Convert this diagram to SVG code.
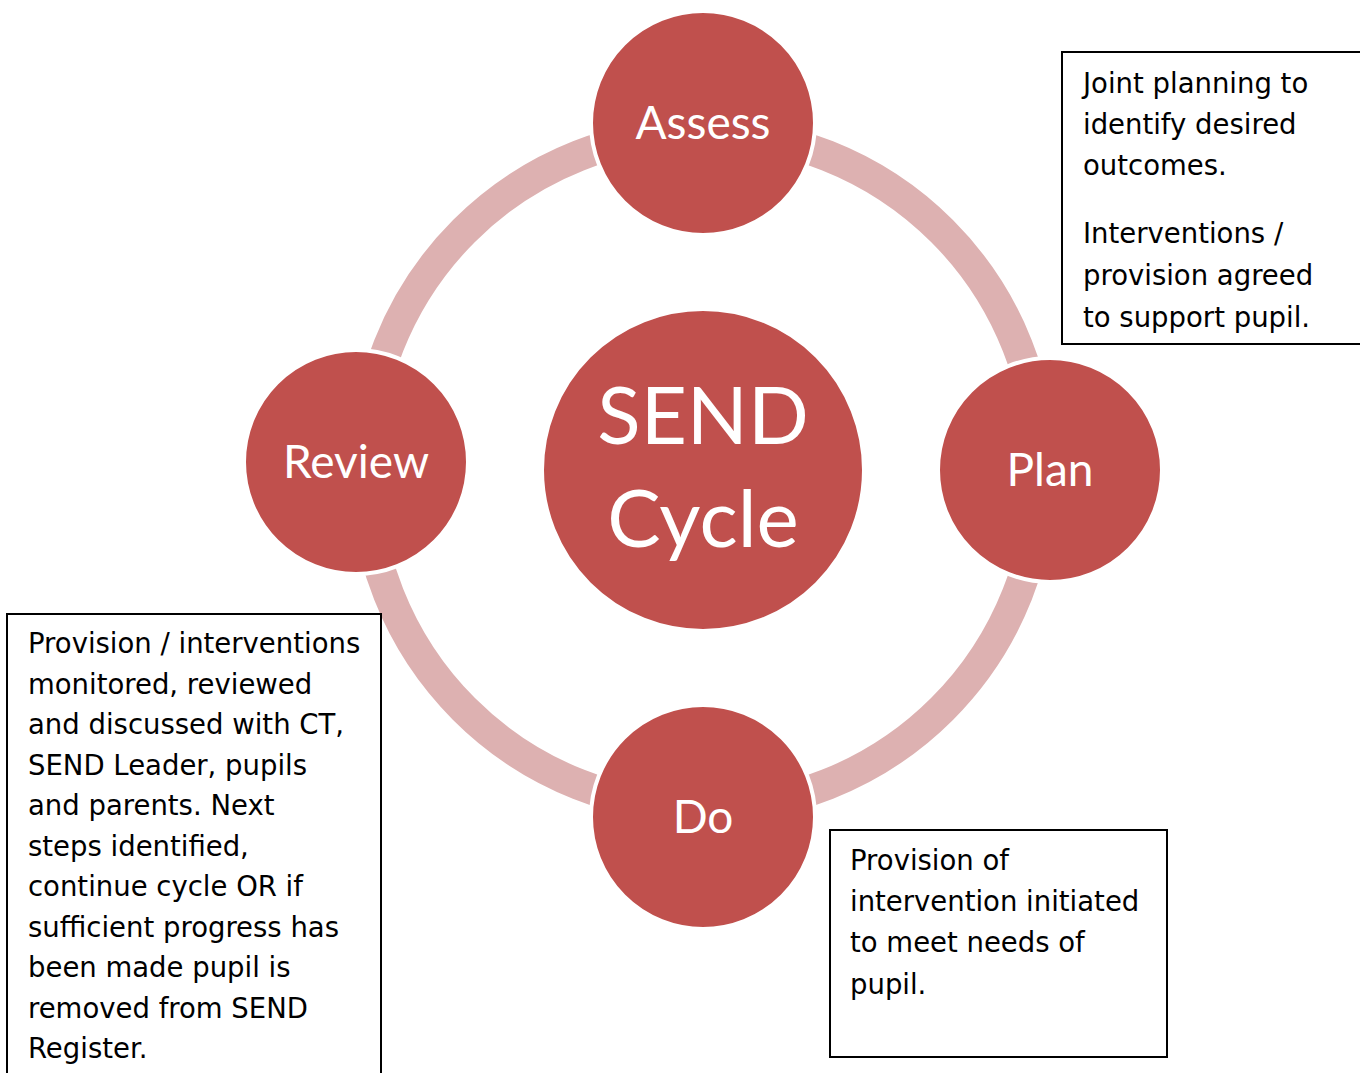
<svg xmlns="http://www.w3.org/2000/svg" width="1360" height="1073" viewBox="0 0 1360 1073">
<style>
.node{fill:#C0504D;stroke:#FFFFFF;stroke-width:4}
.lbl{font-family:Lato,"Open Sans",sans-serif;fill:#FFFFFF;text-anchor:middle}
.box{fill:#FFFFFF;stroke:#000000;stroke-width:2}
.note{font-family:"DejaVu Sans",sans-serif;font-size:27.5px;fill:#000000}
</style>
<rect width="1360" height="1073" fill="#FFFFFF"/>
<g id="connectors">
<circle cx="703" cy="470" r="338" fill="none" stroke="#DDB1B1" stroke-width="31"/>
</g>
<g id="center">
<circle class="node" cx="703" cy="470" r="161"/>
<text class="lbl" x="703" y="444" font-size="80">SEND</text>
<text class="lbl" x="703" y="547" font-size="80">Cycle</text>
</g>
<g id="assess">
<circle class="node" cx="703" cy="123" r="112"/>
<text class="lbl" x="703" y="139" font-size="46">Assess</text>
</g>
<g id="plan">
<circle class="node" cx="1050" cy="470" r="112"/>
<text class="lbl" x="1050" y="486" font-size="46">Plan</text>
</g>
<g id="do">
<circle class="node" cx="703" cy="817" r="112"/>
<text class="lbl" x="703" y="833" font-size="46">Do</text>
</g>
<g id="review">
<circle class="node" cx="356" cy="462" r="112"/>
<text class="lbl" x="356" y="478" font-size="46">Review</text>
</g>
<g id="note-plan">
<rect class="box" x="1062" y="52" width="300" height="292"/>
<text class="note" x="1083" y="93">Joint planning to</text>
<text class="note" x="1083" y="134">identify desired</text>
<text class="note" x="1083" y="175">outcomes.</text>
<text class="note" x="1083" y="243">Interventions /</text>
<text class="note" x="1083" y="285">provision agreed</text>
<text class="note" x="1083" y="327">to support pupil.</text>
</g>
<g id="note-review">
<rect class="box" x="7" y="614" width="374" height="470"/>
<text class="note" x="28" y="653">Provision / interventions</text>
<text class="note" x="28" y="694">monitored, reviewed</text>
<text class="note" x="28" y="734">and discussed with CT,</text>
<text class="note" x="28" y="775">SEND Leader, pupils</text>
<text class="note" x="28" y="815">and parents. Next</text>
<text class="note" x="28" y="856">steps identified,</text>
<text class="note" x="28" y="896">continue cycle OR if</text>
<text class="note" x="28" y="937">sufficient progress has</text>
<text class="note" x="28" y="977">been made pupil is</text>
<text class="note" x="28" y="1018">removed from SEND</text>
<text class="note" x="28" y="1058">Register.</text>
</g>
<g id="note-do">
<rect class="box" x="830" y="830" width="337" height="227"/>
<text class="note" x="850" y="870">Provision of</text>
<text class="note" x="850" y="911">intervention initiated</text>
<text class="note" x="850" y="952">to meet needs of</text>
<text class="note" x="850" y="994">pupil.</text>
</g>
</svg>
